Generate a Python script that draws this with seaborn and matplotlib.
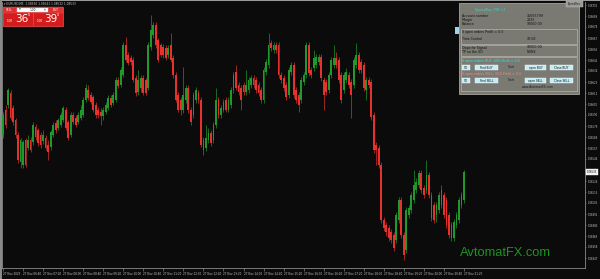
import numpy as np
import matplotlib
matplotlib.use("Agg")
import matplotlib.pyplot as plt
from matplotlib.patches import Rectangle
from matplotlib import transforms
import seaborn as sns

# ---- data: prices in points above 1.08400 (1 point = 0.00001) ----
BASE = 1.08400
opens = [170,195,200,212,197,185,170,143,140,165,
         157,165,163,178,175,170,164,167,160,158,
         170,182,177,180,185,195,183,170,190,187,
         183,187,190,205,215,210,208,200,195,193,
         189,193,197,207,202,205,225,220,230,260,
         250,247,245,227,213,217,227,225,217,258,
         270,280,265,260,258,257,250,260,247,230,
         210,205,195,205,217,195,190,205,212,205,
         165,157,165,172,165,180,205,190,195,205,
         195,200,215,233,220,217,220,213,215,220,
         227,225,220,215,205,233,240,262,255,260,
         260,230,227,220,210,233,240,215,210,205,
         223,230,260,235,237,240,243,248,225,223,
         215,230,240,247,245,230,215,225,230,223,
         220,240,250,243,240,215,225,223,190,160,
         157,140,85,80,77,73,70,65,85,105,
         70,55,90,95,105,115,120,132,117,115,
         130,110,100,90,95,115,110,105,90,80,
         67,80,85,100,105]
highs = [193,200,217,215,200,187,173,167,165,167,
         170,168,183,181,177,173,175,170,165,175,
         183,185,187,193,199,198,185,193,193,190,
         193,200,208,221,220,213,210,203,198,197,
         198,203,210,210,213,228,228,238,263,268,
         253,250,248,230,235,230,230,227,263,290,
         283,283,267,262,261,260,260,272,250,233,
         213,208,238,220,220,198,213,218,215,208,
         168,180,177,175,183,217,208,200,206,208,
         208,218,233,240,223,220,223,235,228,230,
         230,228,223,218,238,246,272,265,263,263,
         263,233,230,223,238,243,243,218,213,228,
         233,263,263,238,255,251,251,251,228,226,
         233,248,260,253,248,233,233,237,233,226,
         248,262,253,246,243,228,228,226,193,163,
         160,143,88,83,80,76,73,93,108,108,
         73,98,100,113,135,127,135,135,120,145,
         133,113,103,103,113,120,113,108,93,83,
         86,93,108,113,135]
lows = [167,177,197,185,180,167,142,137,137,138,
        155,153,160,165,159,157,161,155,145,155,
        168,172,175,178,183,175,165,168,181,178,
        181,185,188,203,205,201,193,187,187,180,
        185,191,195,198,200,203,217,218,228,243,
        240,240,223,209,210,213,210,210,215,255,
        267,257,243,248,247,245,247,243,227,203,
        193,190,192,202,192,180,187,202,202,158,
        150,154,162,159,162,177,187,187,193,193,
        193,197,212,215,210,195,210,210,212,217,
        217,212,209,202,202,230,237,254,252,252,
        227,222,214,205,207,230,207,202,193,202,
        220,227,229,227,234,237,240,224,195,210,
        212,227,237,237,222,202,212,222,217,187,
        217,237,232,232,214,205,217,185,152,140,
        137,82,74,69,64,62,54,62,82,67,
        45,52,87,92,102,112,117,112,107,112,
        107,84,82,83,92,97,87,77,67,64,
        64,77,82,97,102]
closes = [190,180,215,187,183,170,145,165,163,140,
          165,155,180,168,162,160,170,157,153,173,
          180,175,185,190,197,177,167,190,183,180,
          190,195,205,217,207,203,195,190,190,189,
          195,200,207,200,210,225,219,235,260,245,
          242,243,225,212,225,227,212,212,260,275,
          280,260,245,250,250,247,257,245,230,205,
          195,195,210,217,195,183,210,215,205,160,
          155,167,172,162,180,205,190,197,203,195,
          205,215,230,217,213,205,213,220,225,227,
          220,215,212,205,235,243,260,257,260,255,
          230,225,217,208,235,240,210,205,200,225,
          230,260,232,230,247,248,248,227,210,213,
          230,245,247,240,225,205,230,233,220,210,
          245,250,235,235,217,225,220,188,155,155,
          140,85,77,73,67,65,57,90,105,70,
          50,95,97,110,120,123,132,115,110,130,
          110,87,85,100,110,100,90,80,70,67,
          83,90,105,110,133]

time_labels = ["27 Nov 2023", "27 Nov 06:40", "27 Nov 07:20", "27 Nov 08:00",
               "27 Nov 08:40", "27 Nov 09:20", "27 Nov 10:00", "27 Nov 10:40",
               "27 Nov 11:20", "27 Nov 12:00", "27 Nov 12:40", "27 Nov 13:20",
               "27 Nov 14:00", "27 Nov 14:40", "27 Nov 15:20", "27 Nov 16:00",
               "27 Nov 16:40", "27 Nov 17:20", "27 Nov 18:00", "27 Nov 18:40",
               "27 Nov 19:20", "27 Nov 20:00", "27 Nov 20:40", "27 Nov 21:20"]
price_labels = ["1.08700", "1.08689", "1.08678", "1.08667", "1.08656", "1.08645",
                "1.08634", "1.08623", "1.08612", "1.08601", "1.08590", "1.08579",
                "1.08568", "1.08557", "1.08546", "1.08535", "1.08524", "1.08513",
                "1.08502", "1.08491", "1.08480", "1.08469", "1.08458", "1.08447"]

# ---- style ----
sns.set_style("dark", {"axes.facecolor": "#0b0b0b", "figure.facecolor": "#0b0b0b"})
plt.rcParams["font.family"] = ["DejaVu Sans"]

W, H = 600, 279
fig = plt.figure(figsize=(6.0, 2.79), dpi=100, facecolor="#0b0b0b")
ax = fig.add_axes([2 / W, 11 / H, 583 / W, 266 / H])
ax.set_facecolor("#0b0b0b")

o = np.array(opens, float); h = np.array(highs, float)
l = np.array(lows, float); c = np.array(closes, float)
idx = np.arange(len(c))
up = c >= o
GREEN, RED = "#1f9a2a", "#e8302c"
cols = np.where(up, GREEN, RED)

ax.vlines(idx, l, h, colors=cols, linewidth=0.55, alpha=0.85, zorder=2)
body_lo = np.minimum(o, c)
body_h = np.maximum(np.abs(c - o), 1.0)
ax.bar(idx, body_h, bottom=body_lo, width=0.72, color=cols, linewidth=0, zorder=3)

ax.set_xlim(-0.4, 232.3)
ax.set_ylim(37, 303)

# ticks
ax.set_xticks(idx[::8][:len(time_labels)])
ax.set_xticklabels(time_labels)
for t in ax.get_xticklabels():
    t.set_ha("left")
ax.tick_params(axis="x", length=2, width=0.4, color="#999999", pad=1,
               labelsize=2.0, labelcolor="#c8c8c8", bottom=True)
ytick_vals = [(float(s) - BASE) * 1e5 for s in price_labels]
ax.yaxis.tick_right()
ax.set_yticks(ytick_vals)
ax.set_yticklabels(price_labels)
ax.tick_params(axis="y", length=1.0, width=0.4, color="#999999", pad=0.6,
               labelsize=1.85, labelcolor="#c8c8c8", right=True, left=False)
ax.grid(False)
for s in ["left", "bottom", "right"]:
    ax.spines[s].set_color("#8a8a8a")
    ax.spines[s].set_linewidth(0.6)
    ax.spines[s].set_visible(True)
ax.spines["top"].set_visible(False)

# current price box
trans = transforms.blended_transform_factory(ax.transAxes, ax.transData)
ax.text(1.003, c[-1], f"{BASE + c[-1] / 1e5:.5f}", transform=trans, fontsize=1.85,
        color="#000000", va="center", ha="left", zorder=6,
        bbox=dict(boxstyle="square,pad=0.2", fc="#f0f0f0", ec="#f0f0f0", lw=0.3),
        clip_on=False)

# watermark
ax.text(458 / 583, 0.056, "AvtomatFX.com", transform=ax.transAxes,
        fontsize=9.3, family="Liberation Sans", color="#1c9420",
        va="center", ha="left", zorder=5)

# ---- overlay in pixel coordinates ----
ov = fig.add_axes([0, 0, 1, 1], zorder=10)
ov.set_xlim(0, W); ov.set_ylim(H, 0); ov.axis("off"); ov.patch.set_alpha(0)

def rect(x, y, w, hh, fc, ec=None, lw=0.4, alpha=1.0):
    ov.add_patch(Rectangle((x, y), w, hh, facecolor=fc, edgecolor=ec if ec else fc,
                           linewidth=lw, alpha=alpha))

def txt(x, y, s, size=2.3, color="#101010", ha="left", **kw):
    ov.text(x, y, s, fontsize=size, color=color, ha=ha, va="center", **kw)

# window borders
rect(0, 0, W, 1.2, "#9a9a9a", lw=0)
rect(0, 0, 1.6, H, "#8a8a8a", lw=0)

# header
txt(3.5, 4.2, "\u25be EURUSD,M5  1.08536 1.08541 1.08532 1.08533", size=2.1, color="#c8c8c8")

# one-click trading panel
rect(3, 7, 60, 18.5, "#d41c1c", ec="#f05050", lw=0.5)
rect(3, 7, 60, 5.5, "#e03030", ec="#f05050", lw=0.3)
txt(9, 9.8, "SELL", size=2.1, color="#ffffff", ha="center")
txt(56, 9.8, "BUY", size=2.1, color="#ffffff", ha="center")
rect(17, 7.8, 31, 4.2, "#ffffff", ec="#cccccc", lw=0.3)
txt(20, 9.9, "\u25bc", size=1.8, color="#777777", ha="center")
txt(32.5, 9.9, "1.00", size=2.1, color="#222222", ha="center")
txt(45, 9.9, "\u25b2", size=1.8, color="#777777", ha="center")
ov.plot([33, 33], [13, 25], color="#f06060", lw=0.4)
txt(7, 20.5, "1.08", size=2.0, color="#ffffff")
txt(15.5, 19.3, "36", size=7.5, color="#ffffff")
txt(27.5, 15.5, "5", size=2.8, color="#ffffff")
txt(37, 20.5, "1.08", size=2.0, color="#ffffff")
txt(44.5, 19.3, "39", size=7.5, color="#ffffff")
txt(57, 15.5, "5", size=2.8, color="#ffffff")

# info panel
rect(459, 3, 120, 90.5, "#808078", ec="#a8a8a0", lw=0.6, alpha=0.96)
rect(566, 1, 17, 6, "#9a9a94", ec="#c0c0c0", lw=0.3)
txt(574.5, 4, "SpeedBox", size=1.9, color="#202020", ha="center")
rect(455, 27, 4, 7, "#9fd3ea", lw=0)
txt(475, 10.5, "SpeedBox_PDF v1", size=2.4, color="#3ad6c6")
rows = [("Account number", "35655799", 16), ("Margin", "2025", 20),
        ("Balance", "10000.00", 24)]
for a, b, y in rows:
    txt(462, y, a); txt(527, y, b)
rect(461, 28.5, 116, 15.5, "none", ec="#b4b4ac", lw=0.5)
txt(462, 32.5, "0 open orders Profit = 0.0")
txt(462, 38.5, "Time Control"); txt(527, 38.5, "10:58")
rect(461, 44.5, 116, 11, "none", ec="#b4b4ac", lw=0.5)
txt(462, 47.5, "Depo for Signal"); txt(527, 47.5, "10000.00")
txt(462, 52, "TP on the SO"); txt(527, 52, "NONE")
rect(461, 56.5, 116, 34, "none", ec="#b4b4ac", lw=0.5)
txt(462, 61, "0 open orders BUY, SO0 Profit = 0.0", color="#30e2e2")
txt(462, 74, "0 open orders SELL, SO0 Profit = 0.0", color="#e88a8a")
for y0, side in [(65, "BUY"), (78, "SELL")]:
    for bx, bw, lab in [(462, 8, "SO"), (475, 23, "Find " + side),
                        (525, 21, "open " + side), (550, 23, "Close " + side)]:
        rect(bx, y0, bw, 5, "#c6ecf4", ec="#eefaff", lw=0.3)
        txt(bx + bw / 2, y0 + 2.6, lab, size=2.1, ha="center")
    txt(511, y0 + 2, "Start", size=2.1, color="#1a1a1a", ha="center")
txt(538, 87.5, "www.AvtomatFX.com", size=2.2, color="#1a1a1a", ha="center")

fig.savefig("out.png", dpi=100, facecolor=fig.get_facecolor())
